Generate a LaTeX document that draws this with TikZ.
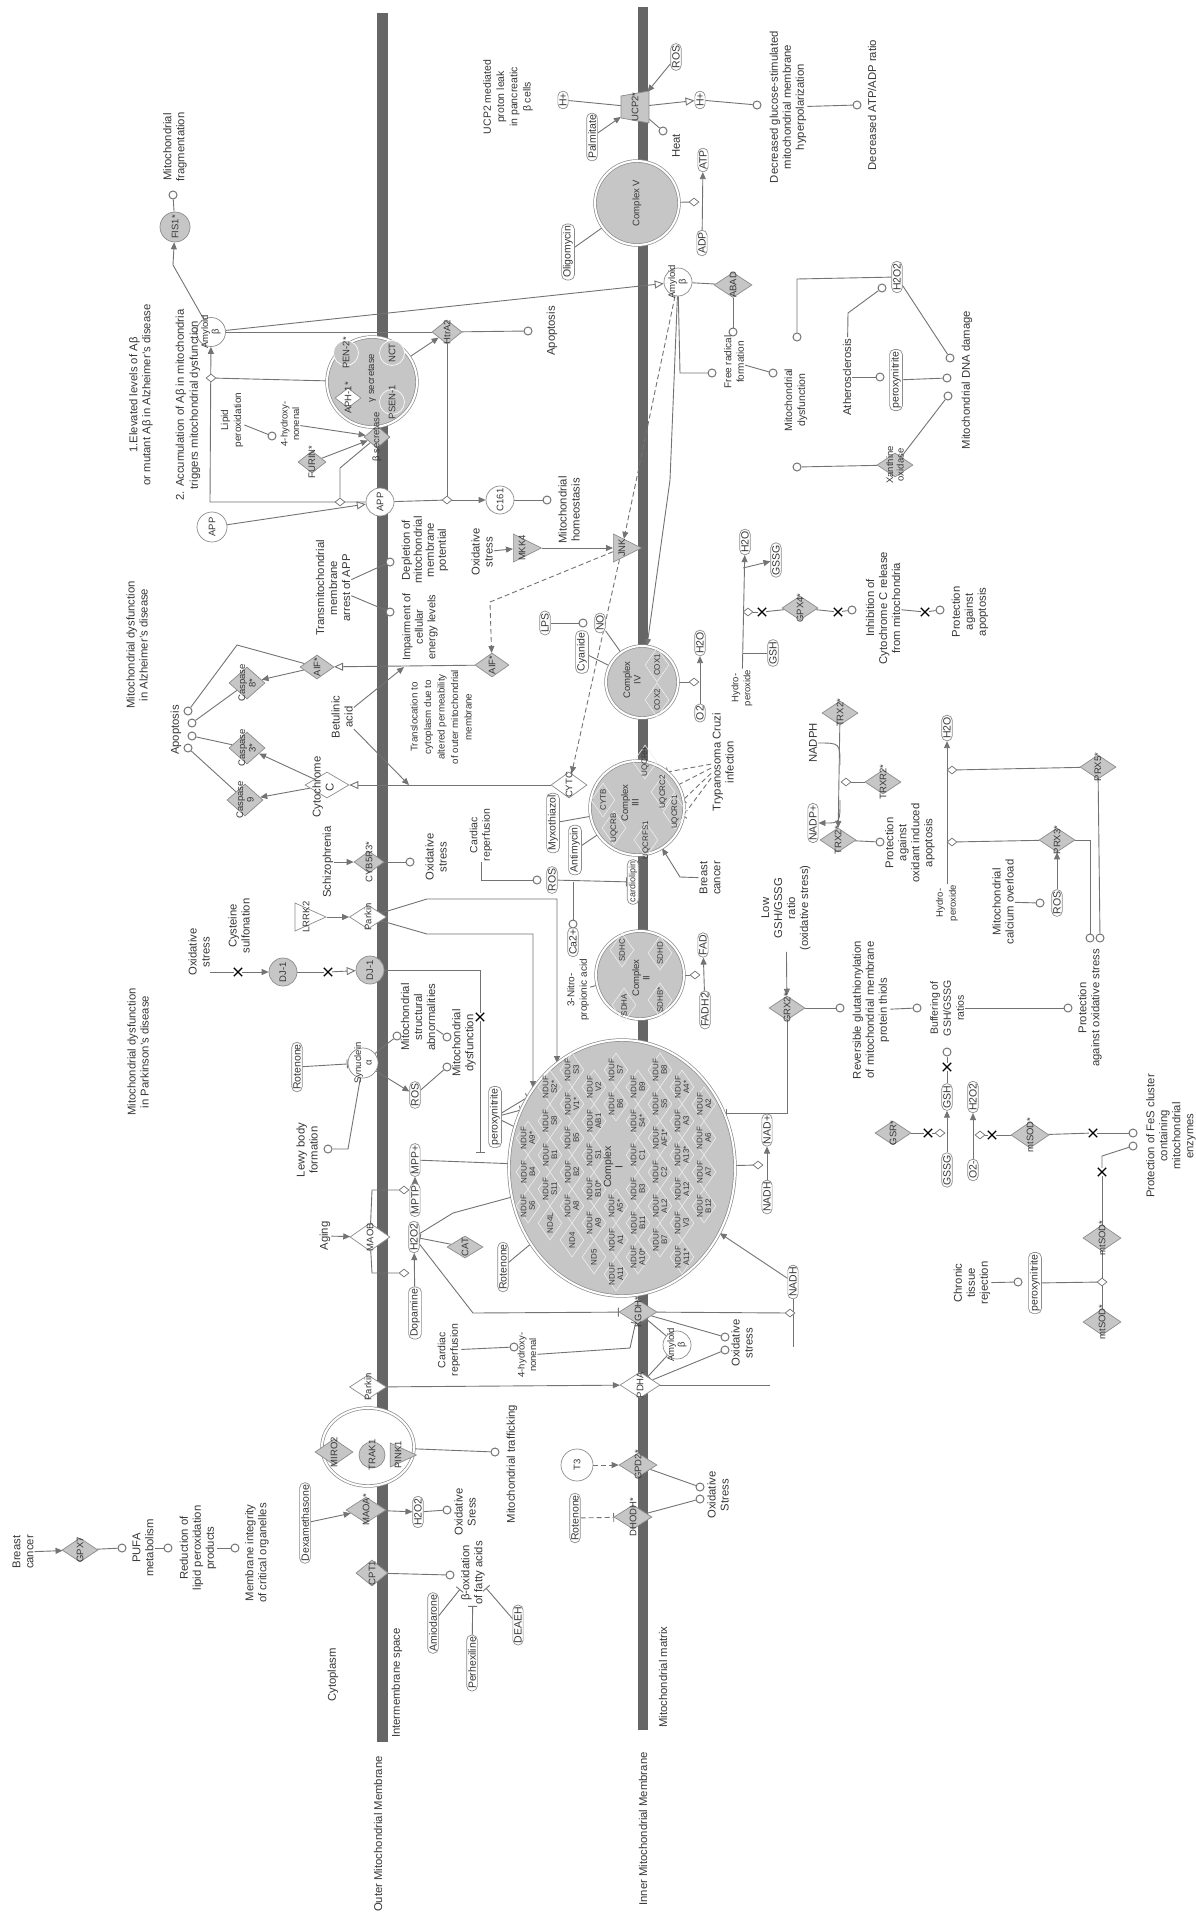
\documentclass[tikz,border=0pt]{standalone}
\usepackage{fontspec}
\setmainfont{Liberation Sans}
\usetikzlibrary{shapes.geometric,shapes.misc,arrows.meta,calc}
\pgfdeclarelayer{bg}
\pgfsetlayers{bg,main}
\definecolor{linec}{RGB}{115,115,115}
\definecolor{nodefill}{RGB}{198,198,198}
\definecolor{bordc}{RGB}{140,140,140}
\definecolor{barc}{RGB}{102,102,102}
\definecolor{txtc}{RGB}{55,55,55}
\newcommand{\SH}[5]{\node[#1] (#2) at (#3,#4) {}; \node[ntxt] (#2t) at (#2) {#5};}
\tikzset{
  lbl/.style={rotate=90, align=center, font=\fontsize{11.3}{13}\selectfont, text=txtc, inner sep=1pt},
  lblf/.style 2 args={lbl, font=\fontsize{#1}{#2}\selectfont},
  ntxt/.style={rotate=90, align=center, font=\fontsize{9.5}{10.5}\selectfont, text=txtc, inner sep=0pt},
  subt/.style={rotate=90, align=center, font=\fontsize{8}{8.5}\selectfont, text=txtc, inner sep=0pt},
  chem/.style={rectangle, rounded corners=5pt, draw=bordc, fill=white, rotate=90, align=center, font=\fontsize{10.5}{12}\selectfont, text=txtc, inner xsep=2pt, inner ysep=1.5pt, line width=0.7pt},
  gdia/.style={diamond, draw=bordc, fill=nodefill, minimum width=36pt, minimum height=24pt, inner sep=0pt, line width=0.7pt},
  wdia/.style={gdia, fill=white},
  gcirc/.style={circle, draw=bordc, fill=nodefill, inner sep=0pt, line width=0.7pt},
  wcirc/.style={gcirc, fill=white},
  gtri/.style={isosceles triangle, isosceles triangle stretches, draw=bordc, fill=nodefill, minimum width=28pt, minimum height=28pt, inner sep=0pt, line width=0.7pt},
  wtri/.style={gtri, fill=white},
  pc/.style={circle, draw=linec, fill=white, minimum size=8pt, inner sep=0pt, line width=1pt},
  md/.style={diamond, draw=linec, fill=white, minimum width=10pt, minimum height=8pt, inner sep=0pt, line width=0.7pt},
  xm/.style={cross out, draw=black, minimum size=7pt, inner sep=0pt, line width=1.3pt},
  cx/.style={circle, draw=bordc, fill=nodefill, double=white, double distance=2pt, inner sep=0pt, line width=0.7pt},
  subd/.style={diamond, draw=white!70!nodefill, minimum width=24pt, minimum height=34pt, inner sep=0pt, line width=0.6pt},
  ln/.style={draw=linec, line width=0.9pt},
  arr/.style={ln, -{Triangle[length=7pt,width=6pt]}},
  oarr/.style={ln, -{Triangle[open,length=9pt,width=8pt,fill=white]}},
  inh/.style={ln, -{Bar[width=9pt]}},
  dsh/.style={dash pattern=on 5pt off 3pt},
}
\begin{document}
\begin{tikzpicture}[x=1pt,y=-1pt]
\useasboundingbox (0,0) rectangle (1196,1919);
\begin{pgfonlayer}{bg}
\fill[white] (0,0) rectangle (1196,1919);
\fill[barc] (377,13) rectangle (388,1742);
\fill[barc] (638,7) rectangle (648,1730);
\end{pgfonlayer}

% ---------- compartment labels
\node[lbl] (Lom) at (378,1834) {Outer Mitochondrial Membrane};
\node[lbl] (Lcyto) at (333,1675) {Cytoplasm};
\node[lbl] (Lims) at (397,1683) {Intermembrane space};
\node[lbl] (Linm) at (643,1829) {Inner Mitochondrial Membrane};
\node[lbl] (Lmat) at (663,1677) {Mitochondrial matrix};

% ---------- top left
\node[lbl] (fragtxt) at (175,147) {Mitochondrial\\fragmentation};
\node[pc] (fragc) at (173,195) {};
\SH{gcirc,minimum size=30pt}{fis1}{175}{227}{FIS1*}
\SH{wcirc,minimum size=29pt}{amyb1}{211}{332}{Amyloid\\β}
\node[lbl] (txt1) at (141,395) {1.Elevated levels of Aβ\\or mutant Aβ in Alzheimer's disease};
\node[lblf={11.3}{14}] (txt2) at (188,405) {2. Accumulation of Aβ in mitochondria\\triggers mitochondrial dysfunction};
\node[cx,minimum size=90pt] (gsec) at (372,382) {};
\node[circle,draw=white,fill=nodefill,minimum size=25pt,inner sep=0pt,line width=0.6pt] (pen2) at (346,353) {};
\node[wdia,minimum width=26pt,minimum height=20pt] (aph1) at (348,398) {};
\node[circle,draw=white,fill=nodefill,minimum size=25pt,inner sep=0pt,line width=0.6pt] (nct) at (392,353) {};
\node[circle,draw=white,fill=nodefill,minimum size=25pt,inner sep=0pt,line width=0.6pt] (psen1) at (392,402) {};
\node[ntxt] (pen2t) at (pen2) {PEN-2*};
\node[ntxt] (aph1t) at (aph1) {APH-1*};
\node[ntxt] (nctt) at (nct) {NCT};
\node[ntxt] (psen1t) at (psen1) {PSEN-1};
\node[ntxt] (gsect) at (372,378) {γ secretase};
\node[md] (mg) at (211,378) {};
\node[lblf={10}{13}] (lipid) at (232,420) {Lipid\\peroxidation};
\node[pc] (hne1c) at (272,436) {};
\node[lblf={9.5}{11.5}] (hne1) at (290,424) {4-hydroxy-\\nonenal};
\SH{gdia,minimum width=26pt,minimum height=22pt}{bsec}{377}{437}{β secretase}
\SH{gdia,minimum width=28pt,minimum height=22pt}{furin}{312}{462}{FURIN*}
\node[md] (mb) at (340,502) {};
\SH{wcirc,minimum size=30pt}{app2}{212}{527}{APP}
\SH{wcirc,minimum size=28pt}{app1}{380}{502}{APP}
\SH{wcirc,minimum size=28pt}{c161}{500}{500}{C161}
\node[md] (mh) at (447,500) {};
\node[pc] (homc) at (547,500) {};
\node[lbl] (homt) at (569,510) {Mitochondrial\\homeostasis};
\SH{gdia,minimum width=30pt,minimum height=24pt}{htra2}{447}{332}{HtrA2}
\node[pc] (apop1c) at (528,331) {};
\node[lbl] (apop1) at (552,331) {Apoptosis};

% ---------- UCP2 / complex V
\node[lblf={10.5}{13.3}] (ucpt) at (508,97) {UCP2 mediated\\proton leak\\in pancreatic\\β cells};
\node[chem] (h1) at (563,100) {H+};
\node[rectangle, minimum width=28pt, minimum height=30pt, inner sep=0pt] (ucp2) at (635,107) {};
\draw[draw=bordc, fill=nodefill, line width=0.7pt] ($(ucp2)+(-14,-11)$) -- ($(ucp2)+(14,-16)$) -- ($(ucp2)+(14,16)$) -- ($(ucp2)+(-14,11)$) -- cycle;
\node[ntxt] (ucp2t) at (ucp2) {UCP2*};
\node[chem] (ros1) at (676,57) {ROS};
\node[chem] (palm) at (592,137) {Palmitate};
\node[pc] (heatc) at (663,131) {};
\node[lbl] (heatt) at (676,146) {Heat};
\node[chem] (h2) at (700,100) {H+};
\node[pc] (dgsc) at (757,105) {};
\node[lbl] (dgs) at (788,107) {Decreased glucose-stimulated\\mitochondrial membrane\\hyperpolarization};
\node[pc] (atpc) at (857,105) {};
\node[lbl] (atpr) at (872,105) {Decreased ATP/ADP ratio};
\node[cx,minimum size=84pt] (cv) at (637,203) {};
\node[ntxt] (cvt) at (cv) {Complex V};
\node[chem] (olig) at (568,252) {Oligomycin};
\node[chem] (atp) at (703,160) {ATP};
\node[chem] (adp) at (702,243) {ADP};
\node[md] (mv) at (694,202) {};
\SH{wcirc,minimum size=28pt}{amyb2}{678}{282}{Amyloid\\β}
\SH{gdia,minimum width=38pt,minimum height=25pt}{abad}{733}{285}{ABAD}
\node[pc] (frc1) at (733,332) {};
\node[pc] (frc2) at (712,373) {};
\node[lblf={10}{12.5}] (frt) at (734,362) {Free radical\\formation};
\node[pc] (md1) at (773,373) {};
\node[pc] (md2) at (797,337) {};
\node[pc] (md3) at (797,467) {};
\node[lblf={10.5}{13}] (mdt) at (796,400) {Mitochondrial\\dysfunction};
\node[chem] (h2o2a) at (897,277) {H2O2};
\SH{gdia}{xo}{895}{465}{Xanthine\\oxidase}
\node[pc] (athc) at (882,288) {};
\node[lbl] (ather) at (847,377) {Atherosclerosis};
\node[pc] (athc2) at (880,377) {};
\node[chem] (pn1) at (896,380) {peroxynitrite};
\node[pc] (dnac1) at (950,358) {};
\node[pc] (dnac2) at (947,378) {};
\node[pc] (dnac3) at (948,396) {};
\node[lbl] (dna) at (967,380) {Mitochondrial DNA damage};

% ---------- Alzheimer block
\node[lbl] (mdad) at (137,645) {Mitochondrial dysfunction\\in Alzheimer's disease};
\node[lbl] (apop2) at (176,730) {Apoptosis};
\node[pc] (ap1) at (188,711) {};
\node[pc] (ap2) at (192,723) {};
\node[pc] (ap3) at (192,736) {};
\node[pc] (ap4) at (188,748) {};
\SH{gdia,minimum width=36pt,minimum height=32pt}{casp8}{247}{683}{Caspase\\8*}
\SH{gdia,minimum width=36pt,minimum height=32pt}{casp3}{247}{748}{Caspase\\3*}
\SH{gdia,minimum width=36pt,minimum height=32pt}{casp9}{245}{800}{Caspase\\9}
\SH{gdia,minimum width=34pt,minimum height=24pt}{aif1}{317}{667}{AIF*}
\node[wdia,minimum width=44pt,minimum height=26pt] (cytc1) at (327,785) {};
\node[lbl] (cytc1t) at (323,787) {Cytochrome\\C};
\SH{gdia,minimum width=34pt,minimum height=24pt}{aif2}{492}{665}{AIF*}
\SH{wdia,minimum width=36pt,minimum height=26pt}{cytc2}{569}{785}{CYTC}
\node[lbl] (transm) at (333,588) {Transmitochondrial\\membrane\\arrest of APP};
\node[pc] (tm1) at (390,562) {};
\node[pc] (tm2) at (390,612) {};
\node[lblf={11.3}{12}] (deplete) at (425,550) {Depletion of\\mitochondrial\\membrane\\potential};
\node[lblf={11}{12.5}] (impair) at (420,627) {Impairment of\\cellular\\energy levels};
\node[lbl] (betul) at (342,717) {Betulinic\\acid};
\node[lblf={9.8}{13.5}] (transl) at (441,717) {Translocation to\\cytoplasm due to\\altered permeability\\of outer mitochondrial\\membrane};
\coordinate (betA) at (404,667);
\coordinate (betB) at (409,785);
\node[lbl] (schiz) at (328,862) {Schizophrenia};
\SH{gdia,minimum width=30pt,minimum height=22pt}{chchd}{369}{862}{CYB5R3*}
\node[pc] (oxs1c) at (410,862) {};
\node[lbl] (oxs1) at (436,857) {Oxidative\\stress};
\node[wtri,minimum width=28pt,minimum height=31pt] (lrrk2) at (304,917) {};
\node[ntxt] (lrrk2t) at (306,917) {LRRK2};
\SH{wdia,minimum width=37pt,minimum height=24pt}{parkin1}{368}{917}{Parkin}
\node[lbl] (cyst) at (239,926) {Cysteine\\sulfonation};

% ---------- Parkinson block
\node[lbl] (oxs2) at (199,952) {Oxidative\\stress};
\coordinate (oxs2e) at (210,972);
\node[xm] (x1) at (238,972) {};
\SH{gcirc,minimum size=28pt}{dj1a}{283}{972}{DJ-1}
\node[xm] (x2) at (328,972) {};
\SH{gcirc,minimum size=28pt}{dj1b}{370}{970}{DJ-1}
\node[xm] (xd) at (480,1017) {};
\coordinate (djend) at (480,1153);
\node[lbl] (pdtxt) at (138,1052) {Mitochondrial dysfunction\\in Parkinson's disease};
\node[chem] (rot1) at (297,1067) {Rotenone};
\SH{wcirc,minimum size=30pt}{syn}{363}{1063}{Synuclein\\α}
\node[lbl] (lewy) at (307,1150) {Lewy body\\formation};
\node[pc] (lewyc) at (328,1149) {};
\node[pc] (msac) at (397,1036) {};
\node[lbl] (msa) at (418,1017) {Mitochondrial\\structural\\abnormalities};
\node[pc] (mdc1) at (447,1037) {};
\node[pc] (mdc2) at (447,1067) {};
\node[lbl] (mdpd) at (464,1043) {Mitochondrial\\dysfunction};
\node[chem] (ros2) at (415,1095) {ROS};
\node[lbl] (aging) at (325,1236) {Aging};
\SH{wdia,minimum width=40pt,minimum height=28pt}{maob}{370}{1237}{MAOB}
\node[md] (mm1) at (404,1190) {};
\node[md] (mm2) at (404,1273) {};
\node[chem] (mmp) at (415,1160) {MPP+};
\node[chem] (mptp) at (415,1200) {MPTP};
\node[chem] (h2o2b) at (414,1237) {H2O2};
\node[chem] (dopa) at (415,1313) {Dopamine};
\SH{gdia,minimum width=36pt,minimum height=22pt}{cat}{465}{1247}{CAT}
\node[chem] (pn2) at (495,1117) {peroxynitrite};
\node[chem] (rot2) at (503,1267) {Rotenone};

% ---------- Complex I
\node[cx,ellipse,minimum width=226pt,minimum height=256pt] (c1) at (622,1168) {};
\foreach \px/\py/\tx [count=\i] in {528/1138/NDUF\\A9*, 528/1172/NDUF\\B4, 528/1206/NDUF\\S6,
  550/1087/NDUF\\S2*, 550/1121/NDUF\\S8, 550/1155/NDUF\\B1, 550/1189/NDUF\\S11, 550/1223/ND4L,
  572/1070/NDUF\\S3, 572/1104/NDUF\\V1*, 572/1138/NDUF\\B5, 572/1172/NDUF\\B2, 572/1206/NDUF\\A8, 572/1240/ND4,
  594/1087/NDUF\\V2, 594/1121/NDUF\\AB1, 594/1155/NDUF\\S1, 594/1189/NDUF\\B10*, 594/1223/NDUF\\A9, 594/1257/ND5,
  616/1070/NDUF\\S7, 616/1104/NDUF\\B6, 616/1206/NDUF\\A5*, 616/1240/NDUF\\A1, 616/1274/NDUF\\A11,
  638/1087/NDUF\\B9, 638/1121/NDUF\\S4*, 638/1155/NDUF\\C1, 638/1189/NDUF\\B3, 638/1223/NDUF\\B11, 638/1257/NDUF\\A10*,
  660/1070/NDUF\\B8, 660/1104/NDUF\\S5, 660/1138/NDUF\\AF1*, 660/1172/NDUF\\C2, 660/1206/NDUF\\AL2, 660/1240/NDUF\\B7,
  682/1087/NDUF\\A4*, 682/1121/NDUF\\A3, 682/1155/NDUF\\A13*, 682/1189/NDUF\\A12, 682/1223/NDUF\\V3, 682/1257/NDUF\\A11*,
  704/1104/NDUF\\A2, 704/1138/NDUF\\A6, 704/1172/NDUF\\A7, 704/1206/NDUF\\B12}
  {\node[subd] (c1d\i) at (\px,\py) {}; \node[subt] (c1s\i) at (\px,\py) {\tx};}
\node[ntxt,font=\fontsize{10.5}{11.5}\selectfont] (c1t) at (613,1167) {Complex\\I};
\node[chem] (nad) at (767,1130) {NAD+};
\node[chem] (nadh1) at (767,1197) {NADH};
\node[md] (mn) at (758,1165) {};
\SH{gdia}{grx2}{787}{1008}{GRX2*}
\coordinate (c1g) at (726,1113);
\coordinate (c1h) at (512,1197);
\coordinate (c1p1) at (557,1063);
\coordinate (c1p2) at (533,1088);
\coordinate (cp1) at (515,1127);
\coordinate (cp2) at (521,1110);
\coordinate (cp3) at (528,1097);
\node[lbl] (lowgsh) at (786,908) {Low\\GSH/GSSG\\ratio\\(oxidative stress)};
\node[pc] (rgc) at (840,1008) {};
\node[lbl] (rgt) at (871,1010) {Reversible glutathionylation\\of mitochondrial membrane\\protein thiols};
\node[pc] (bufc) at (917,1008) {};
\node[lblf={10.5}{13}] (buft) at (947,1008) {Buffering of\\GSH/GSSG\\ratios};
\node[pc] (pacos) at (1068,1008) {};
\node[lbl] (pacost) at (1090,1008) {Protection\\against oxidative stress};

% ---------- GSR / SOD
\SH{gdia}{gsr}{893}{1133}{GSR*}
\node[xm] (xg) at (928,1133) {};
\node[md] (mgsr) at (940,1133) {};
\node[chem] (gsh2) at (947,1097) {GSH};
\node[chem] (gssg2) at (947,1170) {GSSG};
\node[xm] (xb) at (947,1067) {};
\node[pc] (bufc2) at (947,1052) {};
\node[chem] (h2o2c) at (973,1097) {H2O2};
\node[chem] (o2) at (973,1170) {O2-};
\node[md] (msd) at (980,1135) {};
\node[xm] (xs) at (992,1135) {};
\SH{gdia,minimum width=38pt,minimum height=26pt}{msod1}{1030}{1135}{mtSOD*}
\node[xm] (xf) at (1093,1133) {};
\node[pc] (fesc1) at (1133,1133) {};
\node[pc] (fesc2) at (1133,1146) {};
\node[lbl] (fes) at (1171,1136) {Protection of FeS cluster\\containing\\mitochondrial\\enzymes};
\node[xm] (xf2) at (1102,1172) {};
\SH{gdia,minimum width=38pt,minimum height=26pt}{msod2}{1102}{1238}{mtSOD*}
\SH{gdia,minimum width=38pt,minimum height=26pt}{msod3}{1102}{1322}{mtSOD*}
\node[md] (mods) at (1102,1282) {};
\node[lbl] (chronic) at (972,1283) {Chronic\\tissue\\rejection};
\node[pc] (chc) at (1018,1282) {};
\node[chem] (pn3) at (1035,1283) {peroxynitrite};

% ---------- TRX / PRX
\SH{gdia}{trx2a}{840}{713}{TRX2*}
\SH{gdia}{trx2b}{838}{840}{TRX2*}
\SH{gdia}{trxr2}{883}{782}{TRXR2*}
\node[md] (mt) at (846,782) {};
\node[lbl] (nadph) at (813,743) {NADPH};
\node[chem] (nadp) at (813,823) {NADP+};
\node[pc] (pac) at (880,842) {};
\node[lbl] (protapop) at (910,843) {Protection\\against\\oxidant induced\\apoptosis};
\node[chem] (h2o3) at (947,728) {H2O};
\node[lblf={9.5}{13}] (hp2) at (947,903) {Hydro-\\peroxide};
\node[md] (m5) at (952,770) {};
\node[md] (m3) at (952,842) {};
\SH{gdia}{prx5}{1098}{767}{PRX5*}
\SH{gdia}{prx3}{1057}{840}{PRX3*}
\node[chem] (ros3) at (1057,903) {ROS};
\node[pc] (mcoc) at (1040,903) {};
\node[lbl] (mco) at (1003,902) {Mitochondrial\\calcium overload};
\node[pc] (pc1) at (1090,938) {};
\node[pc] (pc2) at (1100,938) {};

% ---------- JNK / complex IV / III / II
\node[lbl] (oxs3) at (482,552) {Oxidative\\stress};
\SH{gtri}{mkk4}{522}{548}{MKK4}
\SH{gtri}{jnk}{622}{548}{JNK}
\node[chem] (lps) at (545,623) {LPS};
\node[pc] (lpsc) at (583,623) {};
\node[chem] (no) at (600,623) {NO};
\node[chem] (cyan) at (582,652) {Cyanide};
\node[cx,minimum size=72pt] (c4) at (642,682) {};
\node[subd] (c4d1) at (657,665) {};
\node[subd] (c4d2) at (657,700) {};
\node[subt,font=\fontsize{9.5}{10.5}\selectfont] (c4a) at (632,680) {Complex\\IV};
\node[subt] (c4b) at (657,665) {COX1};
\node[subt] (c4c) at (657,700) {COX2};
\node[chem] (h2o1) at (700,643) {H2O};
\node[chem] (o2a) at (700,713) {O2};
\node[md] (m4) at (694,682) {};
\node[lblf={9.5}{12}] (hp1) at (742,688) {Hydro-\\peroxide};
\node[chem] (h2o1b) at (745,542) {H2O};
\node[chem] (gssg1) at (776,560) {GSSG};
\node[chem] (gsh1) at (773,653) {GSH};
\coordinate (gb) at (743,568);
\coordinate (gh) at (743,653);
\node[md] (mg4) at (748,612) {};
\node[xm] (xg4) at (762,612) {};
\SH{gdia}{gpx4}{800}{608}{GPX4*}
\node[xm] (xi) at (838,612) {};
\node[pc] (ic) at (852,610) {};
\node[lbl] (inhib) at (883,608) {Inhibition of\\Cytochrome C release\\from mitochondria};
\node[xm] (xp) at (925,612) {};
\node[pc] (pcap) at (940,610) {};
\node[lbl] (protap) at (970,612) {Protection\\against\\apoptosis};
\node[cx,minimum size=94pt] (c3) at (637,808) {};
\foreach \px/\py/\tx [count=\i] in {603/800/CYTB, 614/828/UQCRB, 645/762/UQCRH, 646/840/UQCRFS1, 663/792/UQCRC2, 675/812/UQCRC1}
  {\node[subd] (c3d\i) at (\px,\py) {}; \node[subt] (c3s\i) at (\px,\py) {\tx};}
\node[subt,font=\fontsize{9.5}{10.5}\selectfont] (c3t) at (630,803) {Complex\\III};
\node[chem] (myx) at (553,823) {Myxothiazol};
\node[chem] (anti) at (575,850) {Antimycin};
\node[lblf={10.5}{12.5}] (cr1) at (481,835) {Cardiac\\reperfusion};
\node[pc] (crc) at (537,880) {};
\node[chem] (ros4) at (552,880) {ROS};
\node[chem,font=\fontsize{9}{10}\selectfont] (cardio) at (633,882) {cardiolipin};
\node[lbl] (bc2) at (710,878) {Breast\\cancer};
\node[lbl] (tryp) at (723,762) {Trypanosoma Cruzi\\infection};
\coordinate (tp1) at (667,772);
\coordinate (tp2) at (678,785);
\coordinate (tp3) at (683,800);
\coordinate (tp4) at (683,816);
\node[chem] (ca) at (573,942) {Ca2+};
\node[pc] (cac) at (573,924) {};
\coordinate (caup) at (573,882);
\node[lblf={10}{12.5}] (npa) at (578,990) {3-Nitro-\\propionic acid};
\node[cx,minimum size=88pt] (c2) at (640,975) {};
\foreach \px/\py/\tx [count=\i] in {622/950/SDHC, 624/1005/SDHA, 660/1000/SDHB*, 660/953/SDHD}
  {\node[subd] (c2d\i) at (\px,\py) {}; \node[subt] (c2s\i) at (\px,\py) {\tx};}
\node[subt,font=\fontsize{9.5}{10.5}\selectfont] (c2t) at (641,978) {Complex\\II};
\node[chem] (fad) at (703,945) {FAD};
\node[chem] (fadh2) at (705,1010) {FADH2};
\node[md] (mf) at (695,975) {};

% ---------- lower part
\SH{wdia,minimum width=37pt,minimum height=24pt}{parkin2}{368}{1387}{Parkin}
\SH{wdia,minimum width=40pt,minimum height=26pt}{pdha}{640}{1385}{PDHA}
\coordinate (pdend) at (770,1385);
\SH{gdia,minimum width=38pt,minimum height=24pt}{kgdh}{638}{1312}{KGDH*}
\node[md] (mk) at (790,1313) {};
\node[chem] (nadh2) at (793,1282) {NADH};
\coordinate (nadhend) at (793,1347);
\node[lblf={10.5}{12.5}] (cr2) at (449,1350) {Cardiac\\reperfusion};
\node[pc] (hne2c) at (514,1347) {};
\node[lblf={9.5}{11.5}] (hne2) at (527,1355) {4-hydroxy-\\nonenal};
\SH{wcirc,minimum size=28pt}{amyb3}{677}{1345}{Amyloid\\β}
\node[pc] (o4a) at (725,1337) {};
\node[pc] (o4b) at (725,1350) {};
\node[lbl] (oxs4) at (742,1343) {Oxidative\\stress};
\node[ellipse,draw=bordc,double=white,double distance=2pt,fill=white,minimum width=92pt,minimum height=78pt,inner sep=0pt,line width=0.7pt] (mtc) at (368,1447) {};
\SH{gdia,minimum width=38pt,minimum height=26pt}{miro2}{334}{1452}{MIRO2}
\SH{gcirc,minimum size=26pt}{trak1}{372}{1455}{TRAK1}
\SH{gtri,minimum width=24pt,minimum height=26pt}{pink1}{398}{1455}{PINK1}
\node[pc] (mtcc) at (495,1452) {};
\node[lbl] (mtt) at (512,1464) {Mitochondrial trafficking};
\node[chem] (dexa) at (305,1523) {Dexamethasone};
\SH{gdia,minimum width=40pt,minimum height=26pt}{maoa}{366}{1510}{MAOA*}
\node[chem] (h2o2d) at (418,1512) {H2O2};
\node[pc] (osc) at (447,1510) {};
\node[lbl] (oss) at (465,1512) {Oxidative\\Sress};
\SH{gdia,minimum width=32pt,minimum height=26pt}{cpt1}{372}{1573}{CPT1}
\node[pc] (boc) at (450,1575) {};
\node[lbl] (bo) at (473,1573) {β-oxidation\\of fatty acids};
\node[chem] (amio) at (433,1623) {Amiodarone};
\node[chem] (perh) at (472,1663) {Perhexiline};
\node[chem] (deaeh) at (518,1625) {DEAEH};
\SH{wcirc,minimum size=32pt}{tthree}{577}{1465}{T3}
\SH{gdia,minimum width=38pt,minimum height=24pt}{gpd2}{638}{1465}{GPD2*}
\node[chem] (rot3) at (575,1518) {Rotenone};
\SH{gdia,minimum width=38pt,minimum height=24pt}{dhodh}{633}{1517}{DHODH*}
\node[pc] (o5a) at (700,1487) {};
\node[pc] (o5b) at (700,1499) {};
\node[lbl] (oxs5) at (718,1495) {Oxidative\\Stress};
\node[lbl] (bc1) at (23,1552) {Breast\\cancer};
\SH{gdia}{gpx7}{80}{1550}{GPX7}
\node[pc] (pufac) at (122,1548) {};
\node[lbl] (pufa) at (143,1548) {PUFA\\metabolism};
\node[pc] (redc) at (168,1548) {};
\node[lbl] (red) at (198,1548) {Reduction of\\lipid peroxidation\\products};
\node[pc] (memc) at (235,1548) {};
\node[lbl] (mem) at (257,1553) {Membrane integrity\\of critical organelles};

% ================= connectors
\begin{pgfonlayer}{bg}
\draw[arr] (amyb1) -- (173,265) -- (fis1);
\draw[ln] (fis1) -- (fragc);
\draw[oarr] (amyb1) -- (amyb2);
\draw[ln] (amyb1) -- (htra2);
\draw[arr] (gsec) -- (htra2);
\draw[ln] (htra2) -- (apop1c);
\draw[ln] (htra2) -- (mh);
\draw[arr] (app1) -- (210,502) -- (amyb1);
\draw[ln] (gsec) -- (mg);
\draw[oarr] (app2) -- (app1);
\draw[ln] (app1) -- (mh);
\draw[arr] (mh) -- (c161);
\draw[ln] (c161) -- (homc);
\draw[ln] (lipid) -- (hne1c);
\draw[arr] (hne1) -- (bsec);
\draw[arr] (furin) -- (bsec);
\draw[ln] (bsec) -- (340,468) -- (mb);
% UCP2
\draw[ln] (h1) -- (ucp2);
\draw[oarr] (ucp2) -- (h2);
\draw[arr] (ros1) -- (ucp2);
\draw[arr] (palm) -- (ucp2);
\draw[ln] (ucp2) -- (heatc);
\draw[ln] (h2) -- (dgsc);
\draw[ln] (dgs) -- (atpc);
\draw[inh] (olig) -- (cv);
\draw[arr] (adp) -- (atp);
\draw[ln] (cv) -- (mv);
\draw[ln] (amyb2) -- (abad);
\draw[ln] (abad) -- (frc1);
\draw[ln] (amyb2) -- (680,373) -- (frc2);
\draw[ln] (frt) -- (md1);
\draw[ln] (h2o2a) -- (797,279) -- (md2);
\draw[ln] (xo) -- (md3);
\draw[ln] (athc) -- (848,313) -- (ather);
\draw[ln] (ather) -- (athc2);
\draw[ln] (pn1) -- (dnac2);
\draw[ln] (h2o2a) -- (dnac1);
\draw[ln] (xo) -- (dnac3);
% Alzheimer
\draw[arr] (aif1) -- (casp8);
\draw[ln] (aif1) -- (237,645) -- (ap1);
\draw[ln] (casp8) -- (ap2);
\draw[ln] (casp3) -- (ap3);
\draw[ln] (casp9) -- (ap4);
\draw[arr] (cytc1) -- (casp3);
\draw[arr] (cytc1) -- (casp9);
\draw[oarr] (aif2) -- (aif1);
\draw[oarr] (cytc2) -- (cytc1);
\draw[ln] (transm) -- (tm1);
\draw[ln] (transm) -- (tm2);
\draw[arr] (betul) -- (betA);
\draw[arr] (betul) -- (betB);
\draw[arr] (schiz) -- (chchd);
\draw[ln] (chchd) -- (oxs1c);
\draw[arr] (lrrk2) -- (parkin1);
\draw[arr] (parkin1) -- (427,899) -- (557,899) -- (c1p1);
\draw[arr] (parkin1) -- (427,934) -- (533,934) -- (c1p2);
% Parkinson
\draw[ln] (oxs2e) -- (x1);
\draw[arr] (x1) -- (dj1a);
\draw[ln] (dj1a) -- (x2);
\draw[oarr] (x2) -- (dj1b);
\draw[ln] (dj1b) -- (480,970) -- (xd);
\draw[inh] (xd) -- (djend);
\draw[inh] (rot1) -- (syn);
\draw[ln] (lewyc) -- (348,1149) -- (syn);
\draw[ln] (syn) -- (msac);
\draw[arr] (syn) -- (ros2);
\draw[ln] (ros2) -- (mdc2);
\draw[ln] (msa) -- (mdc1);
\draw[arr] (aging) -- (maob);
\draw[ln] (maob) -- (372,1190) -- (mm1);
\draw[ln] (maob) -- (372,1273) -- (mm2);
\draw[arr] (mptp) -- (mmp);
\draw[arr] (dopa) -- (h2o2b);
\draw[inh] (cat) -- (h2o2b);
\draw[inh] (h2o2b) -- (453,1213) -- (c1h);
\draw[inh] (h2o2b) -- (473,1313) -- (kgdh);
\draw[inh] (mmp) -- (c1);
\draw[inh] (pn2) -- (cp1);
\draw[inh] (pn2) -- (cp2);
\draw[inh] (pn2) -- (cp3);
\draw[inh] (rot2) -- (c1);
% complex I right
\draw[arr] (nadh1) -- (nad);
\draw[ln] (c1) -- (mn);
\draw[inh] (grx2) -- (787,1113) -- (c1g);
\draw[arr] (lowgsh) -- (grx2);
\draw[ln] (grx2) -- (rgc);
\draw[ln] (rgt) -- (bufc);
\draw[ln] (buft) -- (pacos);
% GSR / SOD
\draw[ln] (gsr) -- (xg);
\draw[ln] (xg) -- (mgsr);
\draw[arr] (gssg2) -- (gsh2);
\draw[ln] (gsh2) -- (xb);
\draw[ln] (xb) -- (bufc2);
\draw[arr] (o2) -- (h2o2c);
\draw[ln] (msod1) -- (xs);
\draw[ln] (xs) -- (msd);
\draw[ln] (msod1) -- (xf);
\draw[ln] (xf) -- (fesc1);
\draw[ln] (msod3) -- (mods);
\draw[ln] (mods) -- (msod2);
\draw[ln] (msod2) -- (xf2);
\draw[ln] (xf2) -- (1102,1156) -- (fesc2);
\draw[ln] (chronic) -- (chc);
\draw[ln] (pn3) -- (mods);
% TRX / PRX
\draw[arr] (trx2a) -- (trx2b);
\draw[ln] (trxr2) -- (mt);
\draw[ln] (nadph) .. controls (840,743) .. (840,765);
\draw[arr] (840,800) .. controls (840,823) .. (nadp);
\draw[ln] (trx2b) -- (pac);
\draw[arr] (hp2) -- (h2o3);
\draw[ln] (prx5) -- (m5);
\draw[ln] (prx3) -- (m3);
\draw[arr] (ros3) -- (prx3);
\draw[ln] (mco) -- (mcoc);
\draw[ln] (prx3) -- (1090,840) -- (pc1);
\draw[ln] (prx5) -- (pc2);
% JNK / complexes
\draw[arr] (oxs3) -- (mkk4);
\draw[arr] (mkk4) -- (jnk);
\draw[arr,dsh] (jnk) -- (490,602) -- (aif2);
\draw[arr,dsh] (jnk) -- (cytc2);
\draw[arr,dsh] (amyb2) -- (jnk);
\draw[arr] (amyb2) -- (670,480) -- (c4);
\draw[ln] (lps) -- (lpsc);
\draw[inh] (cyan) -- (c4);
\draw[inh] (no) -- (c4);
\draw[arr] (o2a) -- (h2o1);
\draw[ln] (c4) -- (m4);
\draw[arr] (hp1) -- (h2o1b);
\draw[arr] (gb) -- (gssg1);
\draw[ln] (gsh1) -- (gh);
\draw[ln] (gpx4) -- (xg4);
\draw[ln] (xg4) -- (mg4);
\draw[ln] (gpx4) -- (xi);
\draw[ln] (xi) -- (ic);
\draw[ln] (inhib) -- (xp);
\draw[ln] (xp) -- (pcap);
\draw[inh] (myx) -- (c3);
\draw[inh] (anti) -- (c3);
\draw[ln] (cr1) |- (crc);
\draw[inh] (ros4) -- (cardio);
\draw[arr] (bc2) -- (680,877) -- (c3);
\draw[inh,dsh] (tryp) -- (tp1);
\draw[inh,dsh] (tryp) -- (tp2);
\draw[inh,dsh] (tryp) -- (tp3);
\draw[inh,dsh] (tryp) -- (tp4);
\draw[ln] (ca) -- (cac);
\draw[ln] (cac) -- (caup);
\draw[inh] (npa) -- (c2);
\draw[arr] (fadh2) -- (fad);
\draw[ln] (c2) -- (mf);
% lower
\draw[arr] (parkin2) -- (pdha);
\draw[ln] (pdha) -- (pdend);
\draw[ln] (kgdh) -- (mk);
\draw[arr] (nadh2) -- (c1);
\draw[ln] (nadh2) -- (nadhend);
\draw[ln] (cr2) -- (hne2c);
\draw[inh] (hne2) -- (630,1348) -- (kgdh);
\draw[inh] (amyb3) -- (kgdh);
\draw[inh] (amyb3) -- (pdha);
\draw[ln] (kgdh) -- (o4a);
\draw[ln] (pdha) -- (o4b);
\draw[ln] (mtc) -- (mtcc);
\draw[arr] (dexa) -- (maoa);
\draw[arr] (maoa) -- (h2o2d);
\draw[ln] (h2o2d) -- (osc);
\draw[ln] (cpt1) -- (boc);
\draw[inh] (amio) -- (bo);
\draw[inh] (perh) -- (bo);
\draw[inh] (deaeh) -- (bo);
\draw[arr,dsh] (tthree) -- (gpd2);
\draw[inh,dsh] (rot3) -- (dhodh);
\draw[ln] (gpd2) -- (o5a);
\draw[ln] (dhodh) -- (o5b);
\draw[arr] (bc1) -- (gpx7);
\draw[ln] (gpx7) -- (pufac);
\draw[ln] (pufa) -- (redc);
\draw[ln] (red) -- (memc);
\end{pgfonlayer}
\end{tikzpicture}
\end{document}
